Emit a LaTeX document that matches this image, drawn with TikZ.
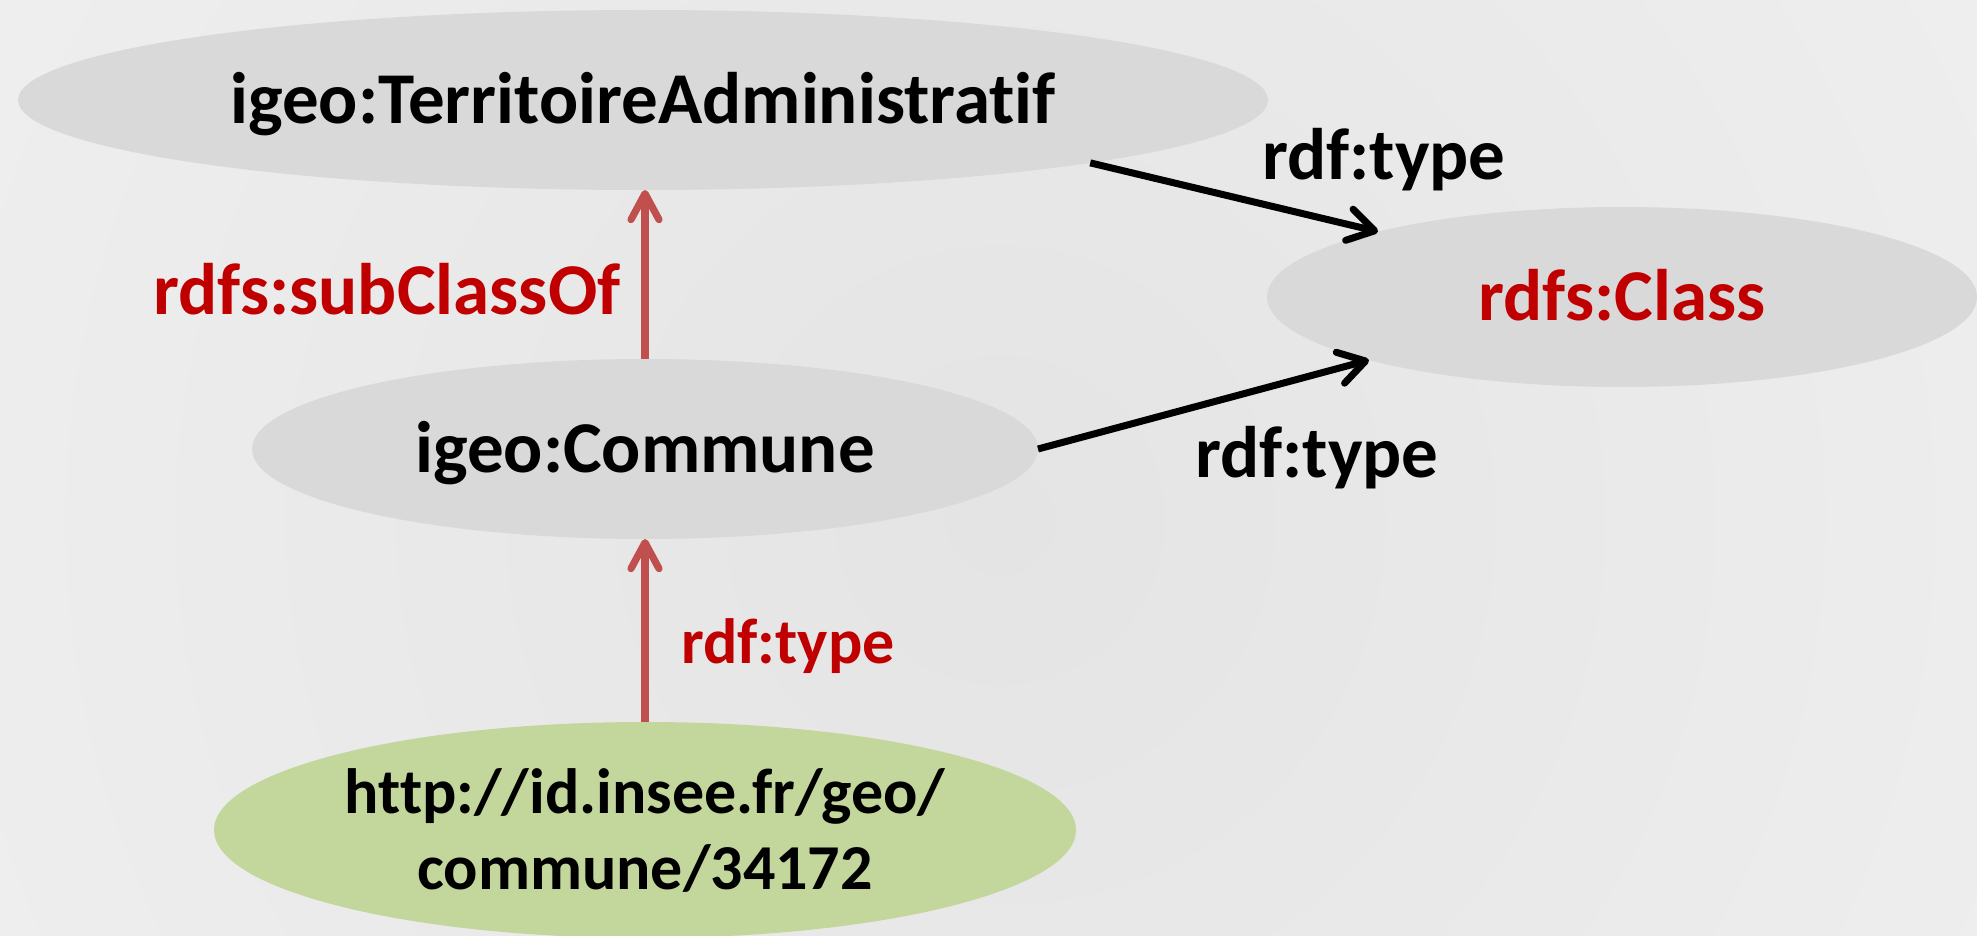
\documentclass[tikz,border=0pt]{standalone}
\usepackage{fontspec}
\setmainfont{Carlito}[Ligatures={NoCommon}]
\usetikzlibrary{arrows.meta,shapes.geometric}
\definecolor{nodegray}{HTML}{D9D9D9}
\definecolor{nodegreen}{HTML}{C3D69B}
\definecolor{labelred}{HTML}{C00000}
\definecolor{arrowred}{HTML}{C0504D}
\definecolor{bgdark}{HTML}{E4E4E4}
\definecolor{bglight}{HTML}{F8F8F8}
\begin{document}
\begin{tikzpicture}[x=0.5pt,y=-0.5pt,
  txt/.style={font=\fontsize{36.5}{38}\selectfont\bfseries, text height=23.5pt, text depth=0pt, inner sep=0pt, outer sep=0pt},
  txtsmall/.style={font=\fontsize{32}{38}\selectfont\bfseries, text height=20.6pt, text depth=0pt, inner sep=0pt, outer sep=0pt},
  term/.style={ellipse, fill=nodegray, inner sep=0pt, outer sep=0pt, txt},
  blackarrow/.style={draw=black, line width=3.5pt, -{Straight Barb[length=13pt,width=16pt,line cap=round,line join=round]}},
  redarrow/.style={draw=arrowred, line width=3.6pt, -{Straight Barb[length=13pt,width=14pt,line cap=round,line join=round]}}
]
\useasboundingbox (0,0) rectangle (1977,936);
\fill[bglight] (0,0) rectangle (1977,936);
\begin{scope}
  \clip (0,0) rectangle (1977,936);
  \shade[inner color=bgdark, outer color=bglight] (1000,520) circle (2200);
\end{scope}

\node[term, minimum width=625pt, minimum height=90pt] (ta) at (643,100) {igeo:TerritoireAdministratif};
\node[term, text=labelred, minimum width=355pt, minimum height=90pt] (cls) at (1622,297) {rdfs:Class};
\node[term, minimum width=393pt, minimum height=90pt] (com) at (645,449) {igeo:Commune};
\node[ellipse, fill=nodegreen, inner sep=0pt, outer sep=0pt, minimum width=431pt, minimum height=108pt] (inst) at (645,830) {};
\node[font=\fontsize{32}{38}\selectfont\bfseries, align=center, inner sep=0pt] (insttext) at (645,830) {http://id.insee.fr/geo/\\commune/34172};

\node[txt, text=labelred] (lsub) at (387,291.5) {rdfs:subClassOf};
\node[txtsmall, text=labelred] (ltype3) at (788,642.4) {rdf:type};
\node[txt] (ltype1) at (1384,156.5) {rdf:type};
\node[txt] (ltype2) at (1317,453.5) {rdf:type};

\draw[blackarrow] (ta.-8.1) -- (cls.165.5);
\draw[blackarrow] (com.east) -- (cls.194.1);
\draw[redarrow] (inst.north) -- (com.south);
\draw[redarrow] (com.north) -- (com.north |- ta.south);
\end{tikzpicture}
\end{document}
